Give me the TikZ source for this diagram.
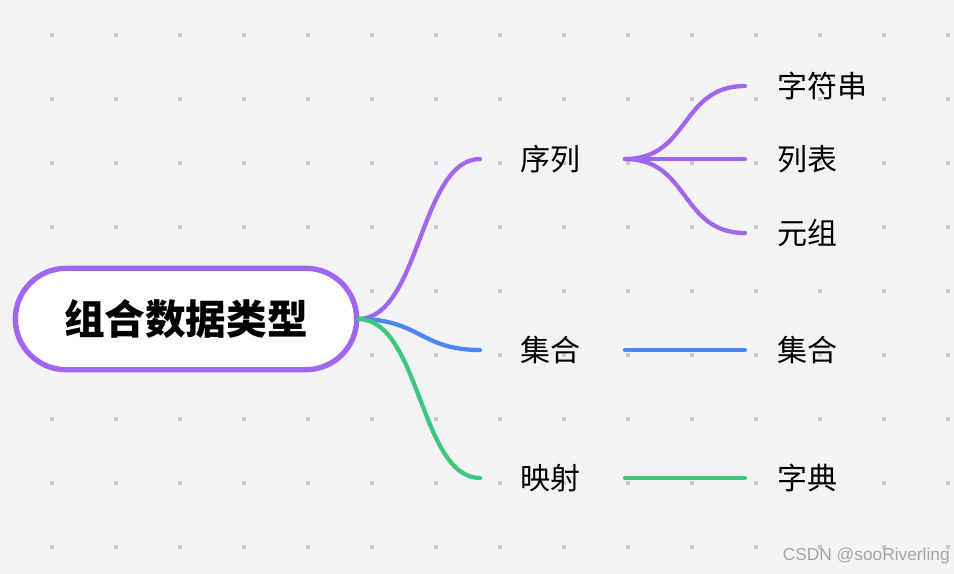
\documentclass[tikz,border=0pt]{standalone}
\usepackage{fontspec}
\newfontfamily\cjk{Noto Sans CJK SC}
\definecolor{pur}{HTML}{A066F0}
\definecolor{blu}{HTML}{4A86F7}
\definecolor{grn}{HTML}{3CC97E}
\definecolor{bg}{HTML}{F3F3F5}
\definecolor{dotc}{HTML}{C8C8CC}
\begin{document}
\begin{tikzpicture}[x=0.75pt,y=-0.75pt,
  lbl/.style={font=\cjk\fontsize{22.5}{26}\selectfont,text=black,inner sep=0pt},
  br/.style={line width=3.2pt,line cap=round}]
\fill[bg] (0,0) rectangle (954,574);
\useasboundingbox (0,0) rectangle (954,574);
\foreach \i in {0,...,14}{\foreach \j in {0,...,8}{
  \fill[dotc] (52+64*\i-1.7,35+64*\j-1.7) rectangle ++(3.4,3.4);}}
\node[draw=pur,line width=4pt,fill=white,rounded corners=38pt,minimum width=256pt,minimum height=76pt,
  font=\cjk\bfseries\fontsize{30.5}{34}\selectfont] (root) at (186,319) {组合数据类型};
\coordinate (r) at (358,319);
\node[lbl] (a) at (550,159) {序列};
\node[lbl] (b) at (550,350) {集合};
\node[lbl] (c) at (550,478) {映射};
\coordinate (a1) at (480,159); \coordinate (b1) at (480,350); \coordinate (c1) at (480,478);
\coordinate (a2) at (625,159); \coordinate (b2) at (625,350); \coordinate (c2) at (625,478);
\draw[br,pur] (r) .. controls (420,319) and (420,159) .. (a1);
\draw[br,blu] (r) .. controls (420,319) and (420,350) .. (b1);
\draw[br,grn] (r) .. controls (420,319) and (420,478) .. (c1);
\node[lbl,anchor=west] (s1) at (777,86) {字符串};
\node[lbl,anchor=west] (s2) at (777,159) {列表};
\node[lbl,anchor=west] (s3) at (777,233) {元组};
\node[lbl,anchor=west] (t1) at (777,350) {集合};
\node[lbl,anchor=west] (u1) at (777,478) {字典};
\draw[br,pur] (a2) .. controls (690,159) and (680,86) .. (745,86);
\draw[br,pur] (a2) -- (745,159);
\draw[br,pur] (a2) .. controls (690,159) and (680,233) .. (745,233);
\draw[br,blu] (b2) -- (745,350);
\draw[br,grn] (c2) -- (745,478);
\node[anchor=east,text=gray!70,font=\fontspec{Liberation Sans}\fontsize{13}{15}\selectfont,inner sep=0pt] (wm) at (950,556) {CSDN @sooRiverling};
\end{tikzpicture}
\end{document}
